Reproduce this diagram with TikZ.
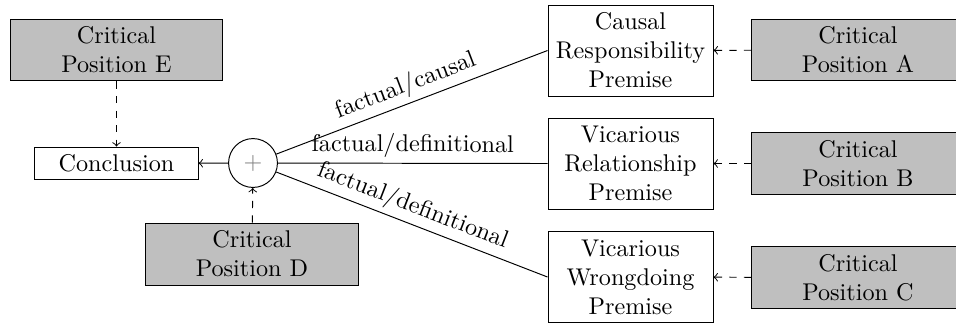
\documentclass[tikz,border=0pt]{standalone}
\usetikzlibrary{positioning}
\begin{document}
\begin{tikzpicture}[x=0.4133pt,y=-0.4133pt,
  crit/.style={draw, fill=gray!50, minimum width=88pt, minimum height=25.6pt, align=center, inner sep=0pt},
  prem/.style={draw, fill=white, minimum width=68.2pt, minimum height=37.6pt, align=center, inner sep=0pt},
  concl/.style={draw, fill=white, minimum width=67.4pt, minimum height=13.6pt, inner sep=0pt},
  plus/.style={draw, circle, minimum size=20.2pt, inner sep=0pt, text=gray},
  dashar/.style={dashed, ->},
  lab/.style={sloped, above, inner sep=2pt}]
\useasboundingbox (0,0) rectangle (956,322);
\node[crit] (E) at (116.5,50) {Critical\\Position E};
\node[concl] (C) at (116.5,163.5) {Conclusion};
\node[plus] (P) at (253,163) {$+$};
\node[crit] (D) at (252,254) {Critical\\Position D};
\node[prem] (R1) at (630.5,50.5) {Causal\\Responsibility\\Premise};
\node[prem] (R2) at (630.5,163.5) {Vicarious\\Relationship\\Premise};
\node[prem] (R3) at (630.5,277) {Vicarious\\Wrongdoing\\Premise};
\node[crit] (A) at (858,50) {Critical\\Position A};
\node[crit] (B) at (858,163.5) {Critical\\Position B};
\node[crit] (Cc) at (858,277.5) {Critical\\Position C};
\draw[dashar] (E) -- (C);
\draw[dashar] (D) -- (P);
\draw[->] (P) -- (C);
\draw (P) -- node[lab, pos=0.5] {factual/causal} (R1.west);
\draw (P) -- node[lab, pos=0.5] {factual/definitional} (R2.west);
\draw (P) -- node[lab, pos=0.48] {factual/definitional} (R3.west);
\draw[dashar] (A) -- (R1);
\draw[dashar] (B) -- (R2);
\draw[dashar] (Cc) -- (R3);
\end{tikzpicture}
\end{document}
